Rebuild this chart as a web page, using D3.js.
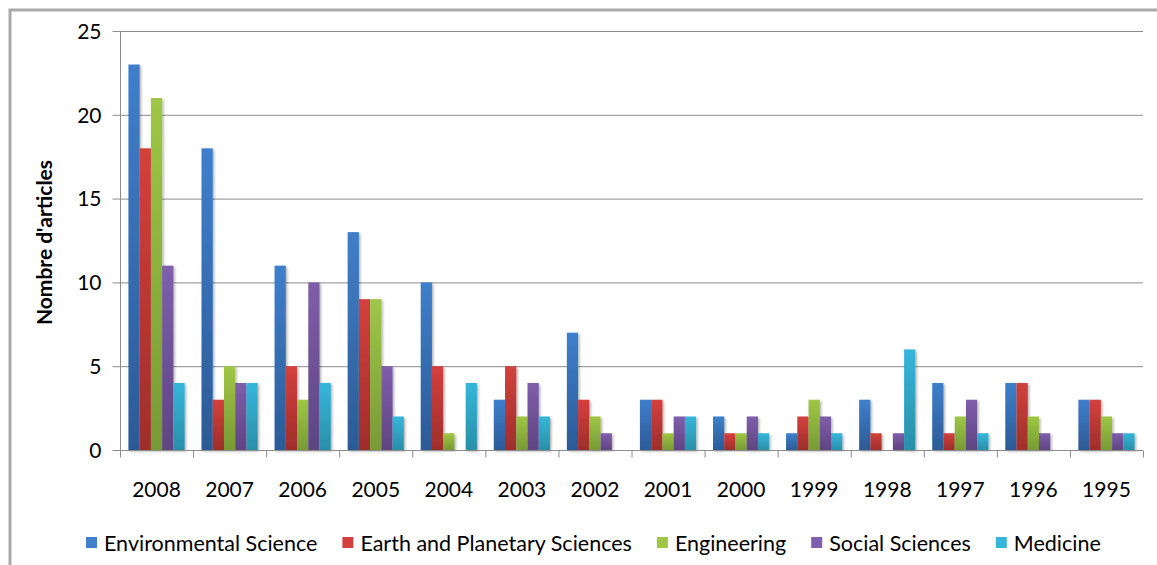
<!DOCTYPE html>
<html><head><meta charset="utf-8">
<script src="https://cdn.jsdelivr.net/npm/d3@7"></script>
<style>body{margin:0;background:#fff}svg{display:block}text{font-family:Lato,"Open Sans",sans-serif;fill:#000}</style>
</head><body>
<svg id="c" width="1157" height="565"></svg>
<script>
const years = ["2008","2007","2006","2005","2004","2003","2002","2001","2000","1999","1998","1997","1996","1995"];
const seriesNames = ["Environmental Science","Earth and Planetary Sciences","Engineering","Social Sciences","Medicine"];
const envScience   = [23,18,11,13,10,3,7,3,2,1,3,4,4,3];
const earthPlanet  = [18,3,5,9,5,5,3,3,1,2,1,1,4,3];
const engineering  = [21,5,3,9,1,2,2,1,1,3,0,2,2,2];
const socialSci    = [11,4,10,5,0,4,1,2,2,2,1,3,1,1];
const medicine     = [4,4,4,2,4,2,0,2,1,1,6,1,0,1];
const yTicks = [0,5,10,15,20,25];
const seriesValues = [envScience, earthPlanet, engineering, socialSci, medicine];
const colTop = ["#3f7fcc","#d4403d","#9fc646","#7f5eab","#36b6da"];
const colBot = ["#2c5a96","#9e2e2b","#789a35","#5f4482","#2a8fa9"];

const svg = d3.select("#c");
const defs = svg.append("defs");
colTop.forEach((c,i)=>{
  const g = defs.append("linearGradient").attr("id","g"+i).attr("x1",0).attr("y1",0).attr("x2",0).attr("y2",1);
  g.append("stop").attr("offset","0%").attr("stop-color",c);
  g.append("stop").attr("offset","100%").attr("stop-color",colBot[i]);
});
const f = defs.append("filter").attr("id","sh").attr("x","-20%").attr("y","-5%").attr("width","150%").attr("height","115%");
f.append("feDropShadow").attr("dx",1.5).attr("dy",1.5).attr("stdDeviation",1.2).attr("flood-color","#000").attr("flood-opacity",0.3);

// frame
svg.append("path").attr("d","M10,565 V10 H1157").attr("fill","none").attr("stroke","#aaaaaa").attr("stroke-width",3);

const L=120, R=1143, T=31, B=450;
const y = d3.scaleLinear().domain([0,25]).range([B,T]);
const x0 = d3.scaleBand().domain(years).range([L,R]).paddingInner(0).paddingOuter(0);
const x1 = d3.scaleBand().domain(d3.range(5)).range([0,x0.bandwidth()]).paddingOuter(0.75).paddingInner(0);

// grid
svg.append("g").selectAll("line").data(yTicks.filter(d=>d>0)).join("line")
  .attr("x1",L).attr("x2",R).attr("y1",d=>y(d)+0.5).attr("y2",d=>y(d)+0.5)
  .attr("stroke","#8c8c8c").attr("stroke-width",1);

// bars
const groups = svg.append("g").selectAll("g").data(years).join("g")
  .attr("transform",d=>`translate(${x0(d)},0)`);
groups.selectAll("rect").data((d,j)=>seriesValues.map((s,i)=>({i,v:s[j]}))).join("rect")
  .filter(d=>d.v>0)
  .attr("x",d=>x1(d.i)).attr("width",x1.bandwidth())
  .attr("y",d=>y(d.v)).attr("height",d=>B-y(d.v))
  .attr("fill",d=>`url(#g${d.i})`).attr("filter","url(#sh)");

// y axis
const ya = svg.append("g").attr("transform",`translate(${L+0.5},0)`)
  .call(d3.axisLeft(y).tickValues(yTicks).tickSize(8).tickPadding(11));
ya.select(".domain").attr("stroke","#8c8c8c").attr("d",`M0,${T}V${B}`);
ya.selectAll(".tick line").attr("stroke","#8c8c8c");
ya.selectAll(".tick text").style("font-size","21px").attr("dy","0.35em");

// x axis
const xa = svg.append("g").attr("transform",`translate(0,${B+0.5})`);
xa.append("line").attr("x1",L).attr("x2",R).attr("stroke","#8c8c8c");
xa.selectAll(".t").data(years.concat(["_end"])).join("line")
  .attr("x1",(d,i)=>L+i*x0.bandwidth()+0.5).attr("x2",(d,i)=>L+i*x0.bandwidth()+0.5)
  .attr("y1",0).attr("y2",7).attr("stroke","#8c8c8c");
xa.selectAll("text").data(years).join("text")
  .attr("x",d=>x0(d)+x0.bandwidth()/2).attr("y",46).attr("text-anchor","middle")
  .style("font-size","21px").text(d=>d);

// y title
svg.append("text").attr("transform",`translate(52,${(T+B)/2+2}) rotate(-90)`)
  .attr("text-anchor","middle").style("font-size","21px").style("font-weight","bold")
  .text("Nombre d'articles");

// legend
const leg = svg.append("g").attr("transform","translate(0,543)");
let cx = 86;
seriesNames.forEach((n,i)=>{
  leg.append("rect").attr("x",cx).attr("y",-6).attr("width",11).attr("height",11).attr("fill",colTop[i]);
  const t = leg.append("text").attr("x",cx+18).attr("y",0).attr("dy","0.35em").style("font-size","21.5px").text(n);
  cx += 18 + t.node().getComputedTextLength() + 25;
});
</script>
</body></html>
